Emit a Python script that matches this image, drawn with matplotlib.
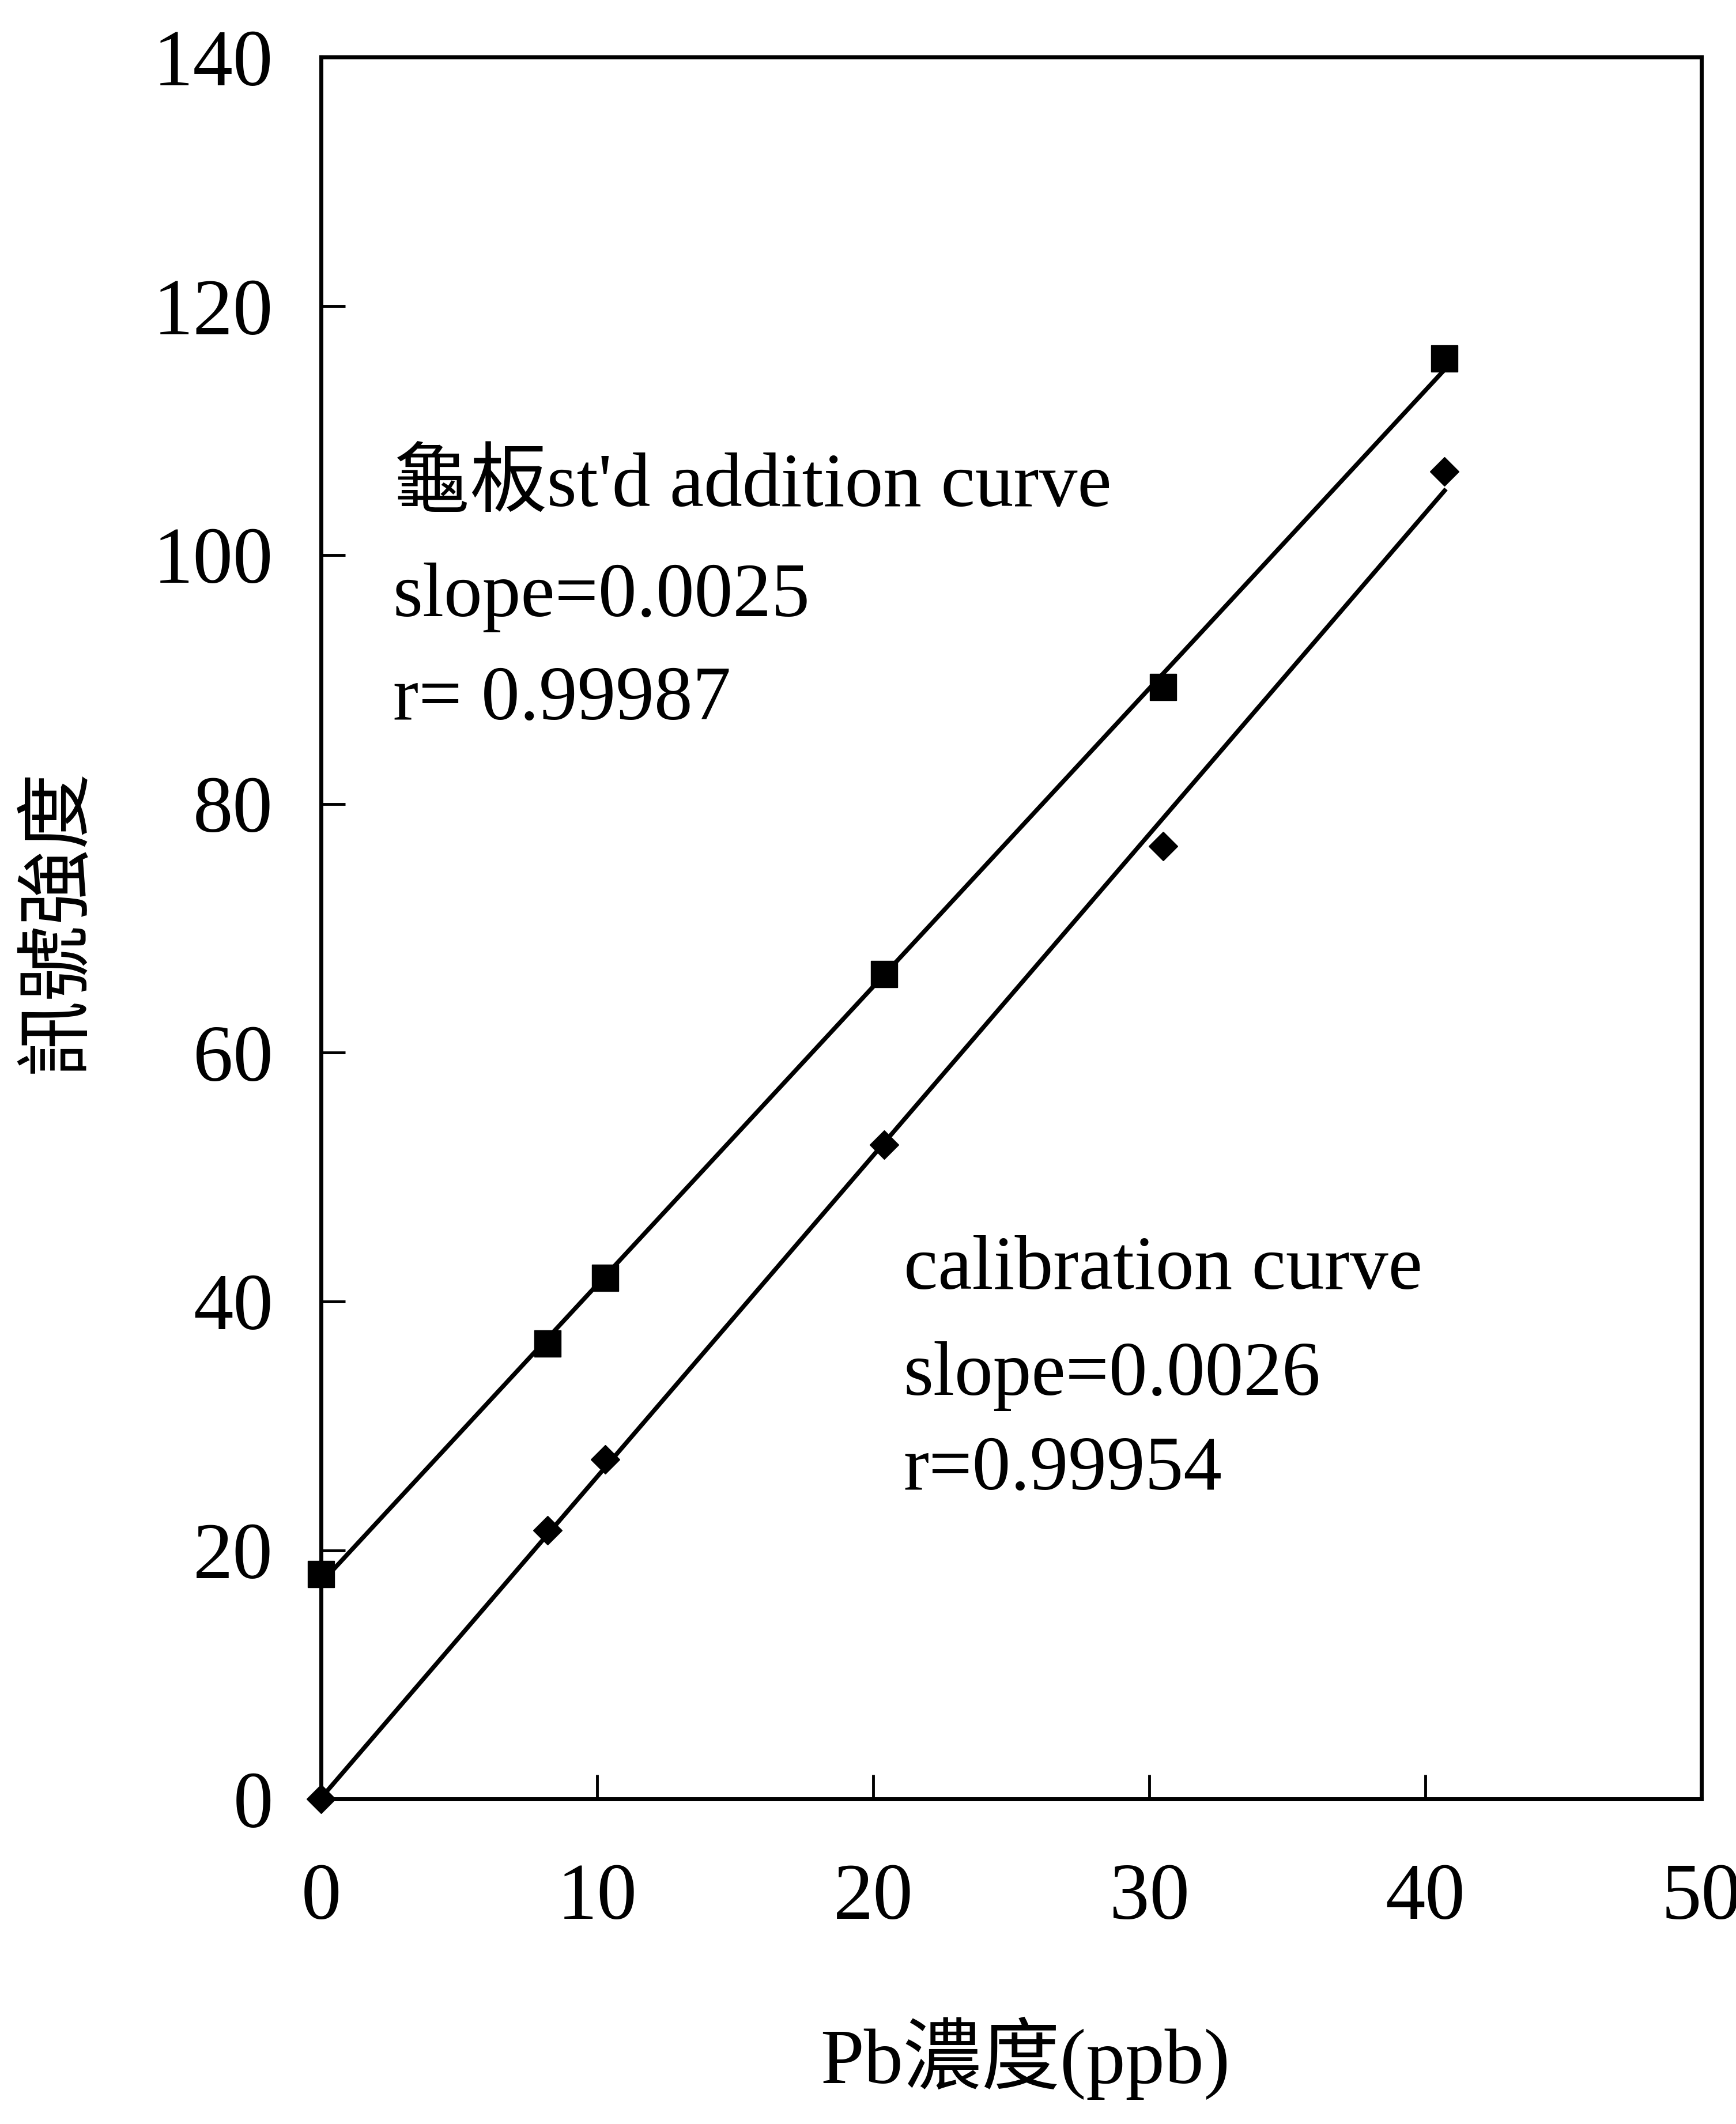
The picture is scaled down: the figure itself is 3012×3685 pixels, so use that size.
# Pb standard addition vs calibration curve
import matplotlib
matplotlib.use('Agg')
import matplotlib.pyplot as plt
import numpy as np

plt.rcParams['font.family'] = ['Liberation Serif', 'Noto Sans CJK TC', 'DejaVu Sans']

# std addition (squares)
add_x = [0, 8.2, 10.3, 20.4, 30.5, 40.7]
add_y = [18.1, 36.6, 41.9, 66.3, 89.4, 115.8]
# calibration (diamonds)
cal_x = [0, 8.2, 10.3, 20.4, 30.5, 40.7]
cal_y = [0, 21.6, 27.3, 52.6, 76.6, 106.7]

x_ticks = [0, 10, 20, 30, 40, 50]
y_ticks = [0, 20, 40, 60, 80, 100, 120, 140]

add_text = ["龜板st'd addition curve", "slope=0.0025", "r= 0.99987"]
cal_text = ["calibration curve", "slope=0.0026", "r=0.99954"]

fig = plt.figure(figsize=(30.12, 36.85), dpi=100)
ax = fig.add_axes([0.185, 0.153, 0.795, 0.820])

# least squares lines over the measured range
for xs, ys in [(add_x, add_y), (cal_x, cal_y)]:
    k, b = np.polyfit(xs, ys, 1)
    xx = np.array([min(xs), max(xs)])
    ax.plot(xx, k * xx + b, color='black', lw=5.5, zorder=2)

ax.plot(add_x, add_y, 's', color='black', ms=33, zorder=3, clip_on=False)
ax.plot(cal_x, cal_y, 'D', color='black', ms=25, zorder=3, clip_on=False)

ax.set_xlim(0, 50)
ax.set_ylim(0, 140)
ax.set_xticks(x_ticks)
ax.set_yticks(y_ticks)
ax.tick_params(direction='in', length=30, width=3.5, labelsize=100)
ax.tick_params(axis='x', pad=80)
ax.tick_params(axis='y', pad=60)
for s in ax.spines.values():
    s.set_linewidth(5)

ax.set_xlabel('Pb濃度(ppb)', fontsize=98)
ax.set_ylabel('訊號強度', fontsize=95)
ax.xaxis.set_label_coords(0.51, -0.125)
ax.yaxis.set_label_coords(-0.164, 0.504)

# annotations, one line each
for i, t in enumerate(add_text):
    ax.text(2.6, [103.9, 95.1, 86.8][i], t, fontsize=96, va='baseline')
for i, t in enumerate(cal_text):
    ax.text(21.1, [41.0, 32.5, 24.9][i], t, fontsize=96, va='baseline')

fig.savefig('out.png', dpi=100)
